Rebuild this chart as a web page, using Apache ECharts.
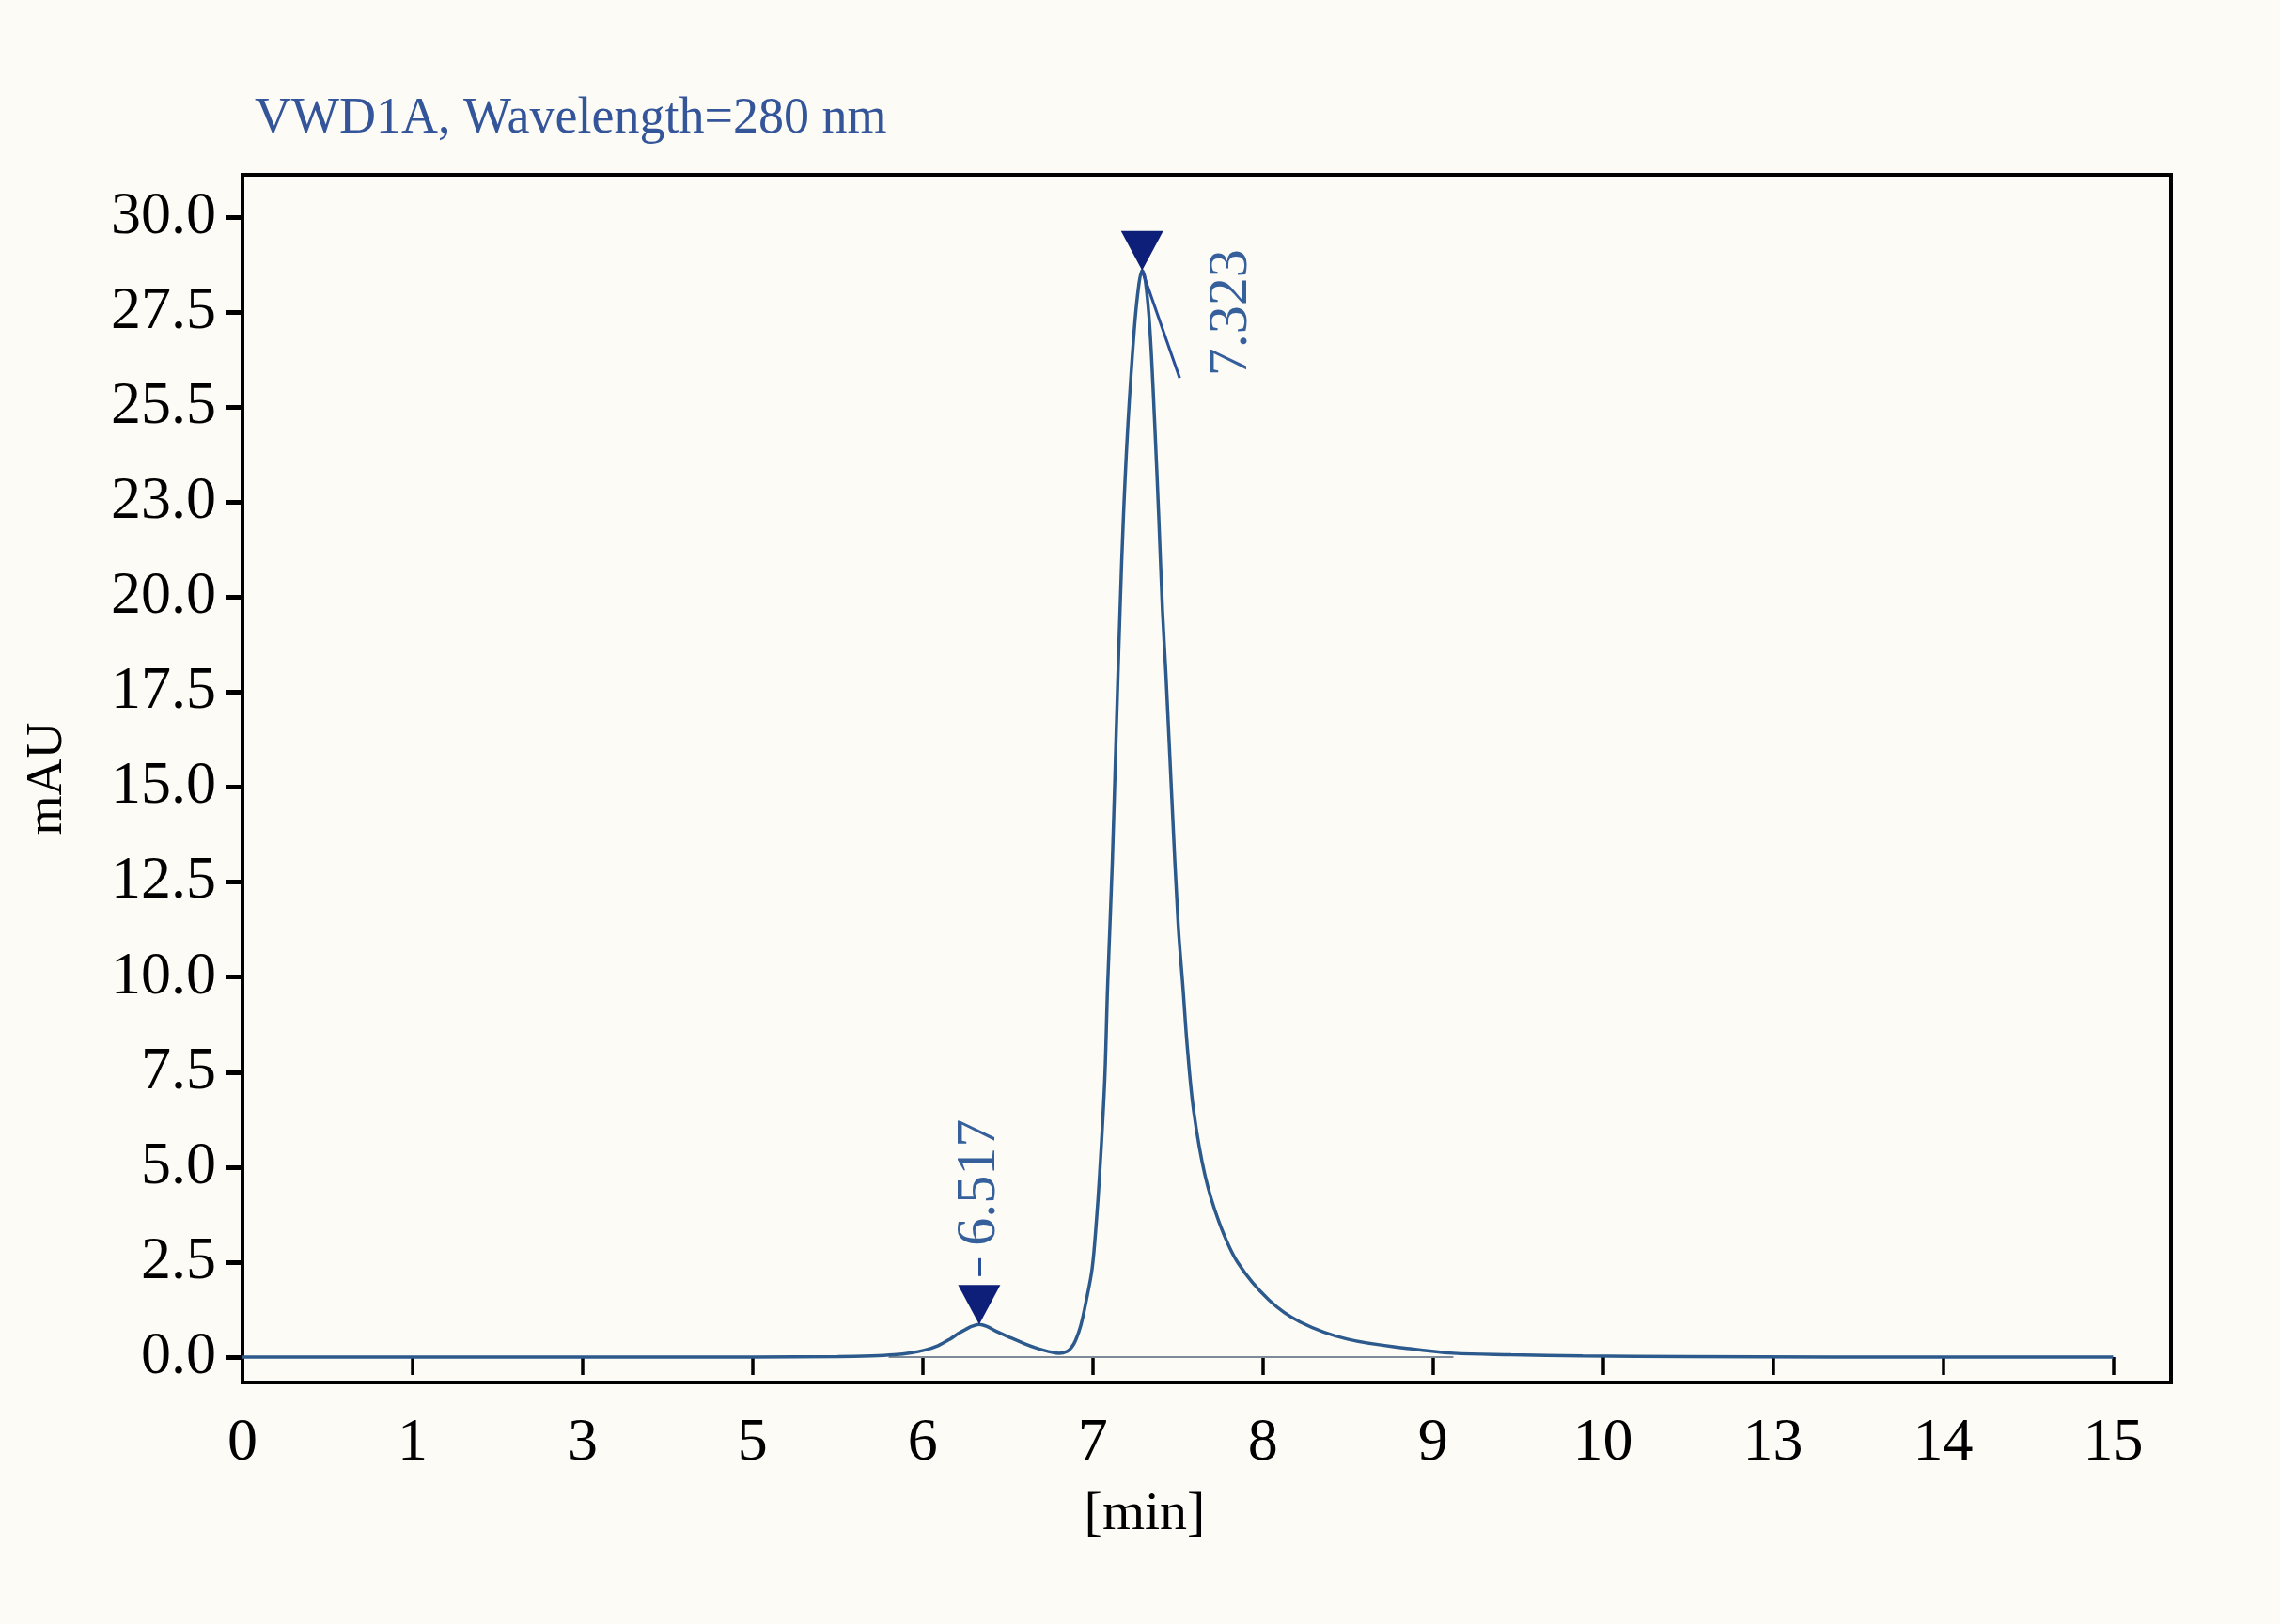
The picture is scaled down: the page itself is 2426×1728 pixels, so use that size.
<!DOCTYPE html>
<html>
<head>
<meta charset="utf-8">
<script src="https://cdn.jsdelivr.net/npm/echarts@6/dist/echarts.min.js"></script>
<style>
  html, body { margin: 0; padding: 0; background: #fcfbf6; }
  #chart { width: 2426px; height: 1728px; }
</style>
</head>
<body>
<div id="chart"></div>
<script>
// tick labels (evenly spaced on the axis, as printed)
var xLabels = ['0', '1', '3', '5', '6', '7', '8', '9', '10', '13', '14', '15'];
var xTickPos = [0, 1, 2, 3, 4, 5, 6, 7, 8, 9, 10, 11];
var yLabels = ['0.0', '2.5', '5.0', '7.5', '10.0', '12.5', '15.0', '17.5', '20.0', '23.0', '25.5', '27.5', '30.0'];
var yTickVal = [0, 2.5, 5, 7.5, 10, 12.5, 15, 17.5, 20, 22.5, 25, 27.5, 30];

// trace, x in tick-position units, y in mAU
var xPos = [0, 1, 2, 3, 3.5, 3.7, 3.83, 3.93, 4.01, 4.09, 4.16, 4.21, 4.25, 4.29, 4.33, 4.38,
  4.43, 4.52, 4.60, 4.66, 4.71, 4.765, 4.80, 4.85, 4.876, 4.90, 4.93, 4.96, 4.996, 5.02, 5.04,
  5.07, 5.087, 5.115, 5.137, 5.16, 5.18, 5.207, 5.244, 5.27, 5.29, 5.31, 5.336, 5.364, 5.388,
  5.41, 5.43, 5.465, 5.502, 5.53, 5.557, 5.594, 5.659, 5.742, 5.852, 6.036, 6.22, 6.497, 6.865,
  7.12, 7.46, 7.88, 8.5, 9.35, 10, 11];
var yVal = [0, 0, 0, 0, 0.01, 0.03, 0.06, 0.11, 0.18, 0.30, 0.47, 0.62, 0.72, 0.81, 0.86, 0.80,
  0.68, 0.50, 0.35, 0.25, 0.18, 0.12, 0.10, 0.15, 0.26, 0.45, 0.84, 1.45, 2.32, 3.5, 4.8,
  7.27, 9.74, 13.04, 16.34, 19.63, 22.1, 24.58, 27.05, 28.2, 28.6, 28.3, 27.05, 24.58, 22.1,
  19.63, 17.98, 14.69, 11.39, 9.74, 8.09, 6.45, 4.8, 3.56, 2.49, 1.5, 0.92, 0.47, 0.22,
  0.1, 0.06, 0.03, 0.01, 0, 0, 0];

// integration baseline
var baseX = [3.8, 7.12];
var baseY = [0, 0];

// peaks
var peakNames = ['6.517', '7.323'];
var peakX = [4.332, 5.29];
var peakY = [0.86, 28.6];
// marker sticks [x1, y1, x2, y2]
var stick517 = [4.332, 2.13, 4.332, 2.6];
var stick323 = [5.29, 28.6, 5.511, 25.77];

var chart = echarts.init(document.getElementById('chart'));

var trace = xPos.map(function (x, i) { return [x, yVal[i]]; });
var base = baseX.map(function (x, i) { return [x, baseY[i]]; });
var serif = 'Liberation Serif';

var option = {
  backgroundColor: '#fcfbf6',
  animation: false,
  title: {
    text: 'VWD1A, Wavelength=280 nm',
    left: 266,
    top: 95,
    textStyle: { color: '#34559a', fontFamily: serif, fontSize: 54, fontWeight: 'normal' }
  },
  grid: {
    left: 258, right: 116, top: 186, bottom: 257,
    show: true, borderColor: '#000', borderWidth: 4,
    outerBoundsMode: 'none'
  },
  xAxis: {
    type: 'value',
    min: 0,
    max: 11.34,
    name: '[min]',
    nameLocation: 'middle',
    nameGap: 112,
    nameTextStyle: { color: '#000', fontFamily: serif, fontSize: 58, padding: [0, 132, 0, 0] },
    axisLine: { show: false },
    axisTick: { show: true, length: 19, customValues: xTickPos, lineStyle: { color: '#000', width: 3.5 } },
    axisLabel: {
      customValues: xTickPos,
      margin: 33,
      color: '#000', fontFamily: serif, fontSize: 64,
      formatter: function (v) { return xLabels[Math.round(v)]; }
    },
    splitLine: { show: false }
  },
  yAxis: {
    type: 'value',
    min: -0.67,
    max: 31.12,
    name: 'mAU',
    nameLocation: 'middle',
    nameRotate: 90,
    nameGap: 180,
    nameTextStyle: { color: '#000', fontFamily: serif, fontSize: 54 },
    axisLine: { show: false },
    axisTick: { show: true, length: 18, customValues: yTickVal, lineStyle: { color: '#000', width: 5 } },
    axisLabel: {
      customValues: yTickVal,
      margin: 28,
      color: '#000', fontFamily: serif, fontSize: 64,
      formatter: function (v) { return yLabels[Math.round(v / 2.5)]; }
    },
    splitLine: { show: false }
  },
  series: [
    {
      name: 'baseline',
      type: 'line',
      data: base,
      showSymbol: false,
      lineStyle: { color: '#7d8b99', width: 2 },
      z: 2
    },
    {
      name: 'VWD1A',
      type: 'line',
      data: trace,
      showSymbol: false,
      smooth: 0.35,
      lineStyle: { color: '#2c5a8c', width: 3.5 },
      z: 3
    },
    {
      name: 'peaks',
      type: 'scatter',
      symbol: 'triangle',
      symbolRotate: 180,
      symbolSize: [45, 42],
      symbolOffset: [0, -21],
      itemStyle: { color: '#0d1f78', opacity: 1 },
      z: 5,
      label: {
        show: true,
        rotate: 90,
        position: 'inside',
        align: 'center',
        verticalAlign: 'middle',
        color: '#35609c',
        fontFamily: serif,
        fontSize: 60,
        formatter: function (p) { return peakNames[p.dataIndex]; }
      },
      data: [
        { value: [peakX[0], peakY[0]], label: { offset: [130, 0] } },
        { value: [peakX[1], peakY[1]], label: { offset: [-66, 95] } }
      ],
      markLine: {
        silent: true,
        symbol: 'none',
        label: { show: false },
        lineStyle: { color: '#2a4f9a', width: 3, type: 'solid', opacity: 1 },
        data: [
          [{ coord: [stick517[0], stick517[1]] }, { coord: [stick517[2], stick517[3]] }],
          [{ coord: [stick323[0], stick323[1]] }, { coord: [stick323[2], stick323[3]] }]
        ]
      }
    }
  ]
};

chart.setOption(option);
</script>
</body>
</html>
